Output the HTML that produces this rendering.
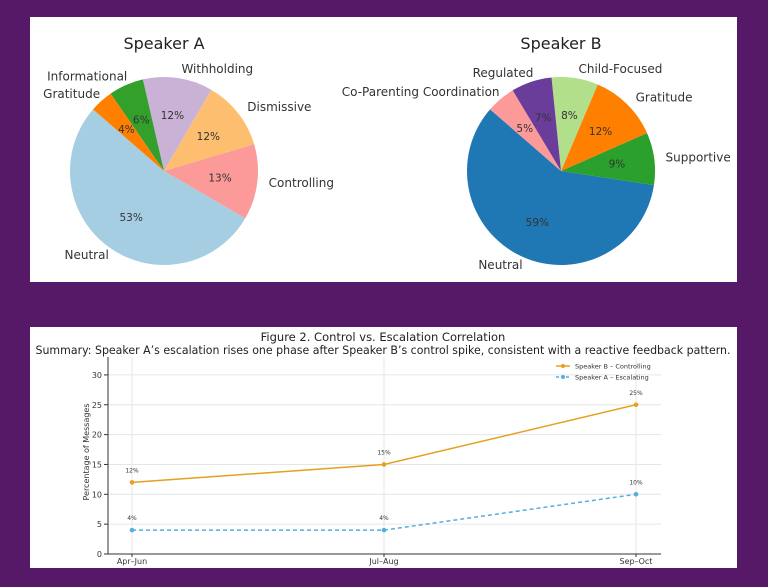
<!DOCTYPE html>
<html><head><meta charset="utf-8"><style>
body{margin:0;background:#561968;width:768px;height:587px;overflow:hidden;font-family:"DejaVu Sans","Liberation Sans",sans-serif}
.panel{position:absolute;background:#fff}
svg text{font-family:"DejaVu Sans","Liberation Sans",sans-serif}
</style></head><body>
<div class="panel" style="left:30px;top:17px;width:707px;height:265px"></div>
<div class="panel" style="left:30px;top:327px;width:707px;height:241px"></div>
<svg id="s" width="768" height="587" style="position:absolute;left:0;top:0"></svg>
<script>
const aLabels=["Neutral","Controlling","Dismissive","Withholding","Informational","Gratitude"];
const aValues=[53,13,12,12,6,4];
const aColors=["#a6cee3","#fb9a99","#fdbf6f","#cab2d6","#33a02c","#ff7f00"];
const bLabels=["Neutral","Supportive","Gratitude","Child-Focused","Regulated","Co-Parenting Coordination"];
const bValues=[59,9,12,8,7,5];
const bColors=["#1f77b4","#2ca02c","#ff7f00","#b2df8a","#6a3d9a","#fb9a99"];
const phases=["Apr–Jun","Jul–Aug","Sep–Oct"];
const controlling=[12,15,25];
const escalating=[4,4,10];
const yTicks=[0,5,10,15,20,25,30];

const NS="http://www.w3.org/2000/svg",svg=document.getElementById('s');
function mk(t,a,txt){const e=document.createElementNS(NS,t);for(const k in a)e.setAttribute(k,a[k]);if(txt!=null)e.textContent=txt;svg.appendChild(e);return e;}

function pie(cx,cy,r,labels,vals,colors,title,start,key){
  const t=mk('text',{x:cx,y:49,'text-anchor':'middle','font-size':16,fill:'#222'},title);
  
  const tot=vals.reduce((a,b)=>a+b,0);let ang=start;
  vals.forEach((v,i)=>{
    const sw=v/tot*360,a0=ang*Math.PI/180,a1=(ang+sw)*Math.PI/180;
    const x0=cx+r*Math.cos(a0),y0=cy-r*Math.sin(a0),x1=cx+r*Math.cos(a1),y1=cy-r*Math.sin(a1);
    const p=mk('path',{d:`M${cx},${cy}L${x0},${y0}A${r},${r} 0 ${sw>180?1:0} 0 ${x1},${y1}Z`,fill:colors[i]});
    
    
    const m=(ang+sw/2)*Math.PI/180,c=Math.cos(m),s=Math.sin(m);
    const pt=mk('text',{x:cx+0.6*r*c,y:cy-0.6*r*s+4,'text-anchor':'middle','font-size':10.5,fill:'#333'},Math.round(v/tot*100)+'%');
    
    const lt=mk('text',{x:cx+1.1*r*c+(c<0?5:2),y:cy-1.1*r*s+4,'text-anchor':c<0?'end':'start','font-size':12,fill:'#333'},labels[i]);
    
    ang+=sw;
  });
}
pie(164,171,94,aLabels,aValues,aColors,"Speaker A",139,'speaker-a');
pie(561,171,94,bLabels,bValues,bColors,"Speaker B",139,'speaker-b');

// line chart
const L=108,R=661,B=554,T=357,ymax=32.5;
const xs=i=>132+i*(636-132)/(phases.length-1);
const ys=v=>B-(v/ymax)*(B-T-3);
let e=mk('text',{x:383,y:341,'text-anchor':'middle','font-size':11.5,fill:'#222'},"Figure 2. Control vs. Escalation Correlation");

e=mk('text',{x:383,y:354,'text-anchor':'middle','font-size':11.5,fill:'#222',textLength:695,lengthAdjust:'spacingAndGlyphs'},"Summary: Speaker A’s escalation rises one phase after Speaker B’s control spike, consistent with a reactive feedback pattern.");

yTicks.forEach(v=>{
  const g=mk('line',{x1:L,x2:R,y1:ys(v),y2:ys(v),stroke:'#e6e6e6','stroke-width':1});
  
  const tk=mk('line',{x1:L-4,x2:L,y1:ys(v),y2:ys(v),stroke:'#333'});
  
  const tl=mk('text',{x:L-6,y:ys(v)+3,'text-anchor':'end','font-size':8,fill:'#333'},v);
  
});
phases.forEach((p,i)=>{
  const g=mk('line',{x1:xs(i),x2:xs(i),y1:T,y2:B,stroke:'#e6e6e6'});
  
  const tk=mk('line',{x1:xs(i),x2:xs(i),y1:B,y2:B+3,stroke:'#333'});
  
  const tl=mk('text',{x:xs(i),y:B+10,'text-anchor':'middle','font-size':8,fill:'#333'},p);
  
});
e=mk('line',{x1:L,x2:L,y1:T,y2:B,stroke:'#333'});
e=mk('line',{x1:L,x2:R,y1:B,y2:B,stroke:'#333'});
e=mk('text',{x:0,y:0,transform:`translate(89,452) rotate(-90)`,'text-anchor':'middle','font-size':8,fill:'#333'},"Percentage of Messages");

function series(vals,color,dash,key){
  const pl=mk('polyline',{points:vals.map((v,i)=>xs(i)+','+ys(v)).join(' '),fill:'none',stroke:color,'stroke-width':1.5,'stroke-dasharray':dash});
  
  vals.forEach((v,i)=>{
    const c=mk('circle',{cx:xs(i),cy:ys(v),r:2.3,fill:color});
    
    const t=mk('text',{x:xs(i),y:ys(v)-10,'text-anchor':'middle','font-size':6,fill:'#333'},v+'%');
    
  });
}
series(controlling,'#e6a020','none','controlling');
series(escalating,'#55aee0','4,3','escalating');
[[ 'Speaker B – Controlling','#e6a020','none',366],['Speaker A – Escalating','#55aee0','3,2',377]].forEach(([lab,c,d,y])=>{
  e=mk('line',{x1:556,x2:570,y1:y,y2:y,stroke:c,'stroke-width':1.5,'stroke-dasharray':d});
  
  e=mk('circle',{cx:563,cy:y,r:2,fill:c});
  e=mk('text',{x:575,y:y+2.5,'font-size':6.5,fill:'#333'},lab);
  
});
</script>
</body></html>
